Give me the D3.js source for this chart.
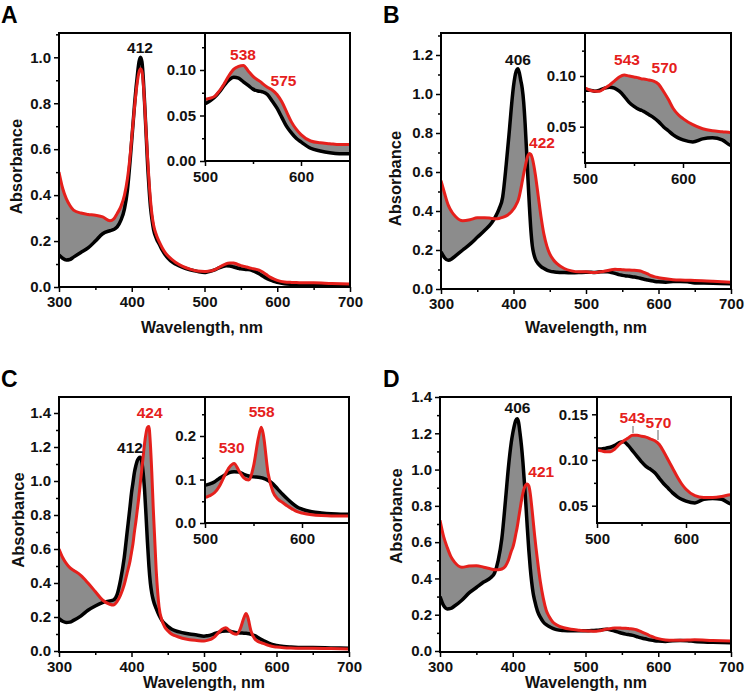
<!DOCTYPE html>
<html><head><meta charset="utf-8">
<script src="https://cdn.jsdelivr.net/npm/d3@7"></script>
<style>
body{margin:0;background:#fff;}
svg text{font-family:Arial,"Liberation Sans",sans-serif;font-weight:bold;}
</style></head><body>
<svg id="c" width="745" height="696"></svg>
<script>
// ---------------- DATA ----------------
const wavelengths=[300,305,310,315,320,330,340,350,360,370,375,380,385,390,394,398,400,402,404,406,408,410,412,414,416,418,420,422,424,426,428,430,434,438,442,446,450,455,460,470,480,490,500,505,510,515,520,525,530,535,540,545,550,555,558,560,565,570,575,580,585,590,595,600,610,620,630,640,650,675,700];

const blackA=[0.14,0.125,0.118,0.12,0.13,0.15,0.17,0.2,0.232,0.245,0.25,0.262,0.29,0.34,0.42,0.56,0.64,0.72,0.8,0.87,0.93,0.98,1.0,0.98,0.9,0.78,0.65,0.52,0.42,0.34,0.29,0.25,0.21,0.185,0.16,0.14,0.125,0.11,0.1,0.085,0.075,0.068,0.063,0.066,0.07,0.076,0.083,0.089,0.092,0.091,0.087,0.083,0.079,0.077,0.0765,0.076,0.073,0.066,0.058,0.048,0.038,0.031,0.025,0.021,0.014,0.011,0.009,0.008,0.008,0.006,0.005];
const redA=[0.5,0.43,0.385,0.355,0.335,0.322,0.316,0.312,0.305,0.288,0.295,0.32,0.35,0.4,0.47,0.58,0.65,0.72,0.79,0.85,0.9,0.935,0.95,0.94,0.88,0.78,0.66,0.55,0.45,0.37,0.31,0.27,0.225,0.195,0.17,0.15,0.135,0.12,0.108,0.09,0.078,0.07,0.068,0.069,0.071,0.077,0.085,0.094,0.101,0.104,0.105,0.099,0.093,0.089,0.087,0.085,0.081,0.078,0.073,0.065,0.054,0.043,0.035,0.029,0.022,0.02,0.019,0.018,0.018,0.015,0.013];

const blackB=[0.19,0.16,0.147,0.155,0.17,0.2,0.23,0.265,0.3,0.34,0.37,0.41,0.47,0.64,0.8,0.97,1.04,1.09,1.12,1.13,1.11,1.07,1.03,0.96,0.85,0.71,0.56,0.42,0.3,0.22,0.18,0.155,0.13,0.115,0.105,0.097,0.092,0.088,0.086,0.084,0.083,0.084,0.086,0.086,0.085,0.086,0.088,0.089,0.088,0.085,0.08,0.074,0.07,0.067,0.066,0.065,0.062,0.059,0.055,0.05,0.046,0.042,0.039,0.037,0.035,0.038,0.039,0.037,0.031,0.03,0.027];
const redB=[0.555,0.49,0.43,0.395,0.372,0.35,0.355,0.365,0.366,0.362,0.36,0.362,0.367,0.375,0.385,0.4,0.41,0.42,0.435,0.45,0.475,0.51,0.55,0.59,0.625,0.66,0.685,0.695,0.69,0.67,0.635,0.59,0.48,0.37,0.28,0.22,0.18,0.15,0.13,0.105,0.093,0.088,0.088,0.086,0.085,0.085,0.088,0.091,0.095,0.099,0.101,0.1,0.099,0.098,0.097,0.097,0.096,0.095,0.092,0.085,0.077,0.068,0.062,0.058,0.052,0.048,0.046,0.045,0.044,0.04,0.035];

const blackC=[0.19,0.175,0.168,0.17,0.18,0.205,0.24,0.265,0.285,0.295,0.3,0.33,0.42,0.55,0.7,0.85,0.93,0.99,1.05,1.09,1.12,1.135,1.14,1.12,1.05,0.95,0.8,0.64,0.5,0.4,0.34,0.3,0.25,0.21,0.18,0.16,0.145,0.13,0.12,0.108,0.1,0.094,0.087,0.09,0.095,0.103,0.11,0.116,0.118,0.117,0.112,0.108,0.106,0.105,0.104,0.103,0.098,0.09,0.078,0.066,0.055,0.045,0.037,0.032,0.026,0.023,0.021,0.02,0.02,0.018,0.016];
const redC=[0.6,0.55,0.515,0.49,0.475,0.445,0.4,0.35,0.3,0.275,0.27,0.29,0.33,0.39,0.46,0.53,0.58,0.63,0.7,0.76,0.83,0.9,0.98,1.06,1.14,1.22,1.28,1.315,1.32,1.22,1.05,0.84,0.48,0.26,0.18,0.14,0.12,0.1,0.09,0.075,0.066,0.062,0.059,0.063,0.07,0.085,0.108,0.128,0.137,0.12,0.104,0.099,0.13,0.195,0.22,0.205,0.115,0.072,0.055,0.047,0.039,0.032,0.026,0.023,0.019,0.017,0.016,0.016,0.016,0.014,0.012];

const blackD=[0.3,0.25,0.232,0.235,0.248,0.28,0.32,0.35,0.38,0.405,0.43,0.5,0.62,0.83,1.01,1.15,1.2,1.24,1.27,1.28,1.26,1.2,1.13,1.04,0.93,0.81,0.68,0.56,0.46,0.38,0.32,0.28,0.22,0.185,0.16,0.145,0.135,0.125,0.118,0.113,0.111,0.111,0.112,0.112,0.113,0.114,0.116,0.119,0.12,0.116,0.11,0.104,0.098,0.093,0.091,0.09,0.086,0.08,0.074,0.069,0.064,0.06,0.057,0.055,0.053,0.057,0.058,0.057,0.052,0.048,0.045];
const redD=[0.72,0.63,0.57,0.52,0.49,0.462,0.468,0.47,0.462,0.452,0.448,0.448,0.452,0.468,0.5,0.55,0.57,0.6,0.64,0.68,0.73,0.78,0.83,0.87,0.9,0.915,0.92,0.91,0.87,0.8,0.72,0.64,0.5,0.38,0.29,0.225,0.19,0.16,0.145,0.128,0.12,0.115,0.111,0.11,0.109,0.109,0.112,0.117,0.121,0.124,0.127,0.127,0.126,0.125,0.124,0.123,0.121,0.117,0.109,0.1,0.091,0.082,0.074,0.068,0.061,0.059,0.059,0.06,0.062,0.058,0.055];

const mainXTicks=[300,400,500,600,700];
const mainXMinor=[350,450,550,650];
const insetXTicks=[500,600];
const insetXMinor=[550];
const yTicks12=[0,0.2,0.4,0.6,0.8,1.0,1.2];
const yTicks14=[0,0.2,0.4,0.6,0.8,1.0,1.2,1.4];
const yTicks10=[0,0.2,0.4,0.6,0.8,1.0];
const yMinorMain=[0.1,0.3,0.5,0.7,0.9,1.1,1.3];
const insetYTicksA=[0,0.05,0.10], insetYMinorA=[0.025,0.075,0.125];
const insetYTicksB=[0.05,0.10], insetYMinorB=[0.025,0.075,0.125];
const insetYTicksC=[0,0.1,0.2], insetYMinorC=[0.05,0.15,0.25];
const insetYTicksD=[0.05,0.10,0.15], insetYMinorD=[0.075,0.125];

// ---------------- DRAW ----------------
const RED="#e5201c", GREY="#8c8c8c";
const svg=d3.select("#c");
let clipId=0;

function plotBox(g, f, xs, ys, black, red, xTicks, xMinor, yTicks, yMinor, yFmt, xRange, opts){
  const x=d3.scaleLinear().domain([xs[0][0],xs[1][0]]).range([xs[0][1],xs[1][1]]);
  const y=d3.scaleLinear().domain([ys[0][0],ys[1][0]]).range([ys[0][1],ys[1][1]]);
  if(opts.bg) g.append("rect").attr("x",f.l).attr("y",f.t).attr("width",f.r-f.l).attr("height",f.b-f.t).attr("fill","#fff");
  const id="clip"+(clipId++);
  g.append("clipPath").attr("id",id).append("rect").attr("x",f.l).attr("y",f.t).attr("width",f.r-f.l).attr("height",f.b-f.t);
  const data=wavelengths.map((w,i)=>({w:w,b:black[i],r:red[i]})).filter(d=>d.w>=xRange[0]&&d.w<=xRange[1]);
  const pg=g.append("g").attr("clip-path","url(#"+id+")");
  pg.append("path").datum(data).attr("fill",GREY)
    .attr("d",d3.area().x(d=>x(d.w)).y0(d=>y(d.b)).y1(d=>y(d.r)).curve(d3.curveMonotoneX));
  pg.append("path").datum(data).attr("fill","none").attr("stroke","#000").attr("stroke-width",3.5).attr("stroke-linejoin","round")
    .attr("d",d3.line().x(d=>x(d.w)).y(d=>y(d.b)).curve(d3.curveMonotoneX));
  pg.append("path").datum(data).attr("fill","none").attr("stroke",RED).attr("stroke-width",3).attr("stroke-linejoin","round")
    .attr("d",d3.line().x(d=>x(d.w)).y(d=>y(d.r)).curve(d3.curveMonotoneX));
  g.append("rect").attr("x",f.l).attr("y",f.t).attr("width",f.r-f.l).attr("height",f.b-f.t)
    .attr("fill","none").attr("stroke","#000").attr("stroke-width",2);
  const ax=g.append("g").attr("transform","translate(0,"+f.b+")")
    .call(d3.axisBottom(x).tickValues(xTicks).tickSize(5).tickPadding(opts.xpad).tickFormat(d3.format("d")));
  const axm=g.append("g").attr("transform","translate(0,"+f.b+")")
    .call(d3.axisBottom(x).tickValues(xMinor).tickSize(3).tickFormat(""));
  const ay=g.append("g").attr("transform","translate("+f.l+",0)")
    .call(d3.axisLeft(y).tickValues(yTicks).tickSize(5).tickPadding(opts.ypad).tickFormat(d3.format(yFmt)));
  const aym=g.append("g").attr("transform","translate("+f.l+",0)")
    .call(d3.axisLeft(y).tickValues(yMinor.filter(v=>y(v)>=f.t-0.5&&y(v)<=f.b+0.5)).tickSize(3).tickFormat(""));
  [ax,axm,ay,aym].forEach(a=>{
    a.select(".domain").remove();
    a.selectAll("line").attr("stroke","#000").attr("stroke-width",1.5);
    a.selectAll("text").attr("font-size",15).attr("fill","#111")
      .style("font-family","Arial,'Liberation Sans',sans-serif").style("font-weight","bold");
  });
  return {x,y};
}

function txt(x,y,s,color,size,anchor,rot){
  const t=svg.append("text").attr("x",x).attr("y",y).text(s).attr("fill",color)
    .attr("font-size",size).attr("text-anchor",anchor||"middle");
  if(rot) t.attr("transform","rotate(-90,"+x+","+y+")").attr("dominant-baseline","central");
  return t;
}

const panels=[
 {letter:"A",lx:1,ly:23,black:blackA,red:redA,
  main:{f:{l:59,r:350,t:33,b:287},xs:[[300,59],[700,350]],ys:[[0,287],[1.0,57.3]],yt:yTicks10,ym:yMinorMain},
  inset:{f:{l:205,r:350,t:33,b:161},xs:[[500,205],[600,301]],ys:[[0,161],[0.1,70]],yt:insetYTicksA,ym:insetYMinorA,fmt:".2f"},
  absX:16,absY:166.5,wlX:202,wlY:333,
  labels:[["412",140,53,"#111"],["538",243,60,RED],["575",283.5,86,RED]]},
 {letter:"B",lx:383,ly:23,black:blackB,red:redB,
  main:{f:{l:441,r:731,t:33,b:289},xs:[[300,441],[700,731]],ys:[[0,289],[1.2,55]],yt:yTicks12,ym:yMinorMain},
  inset:{f:{l:585,r:731,t:33,b:163},xs:[[500,585],[600,683]],ys:[[0.05,126.7],[0.10,76]],yt:insetYTicksB,ym:insetYMinorB,fmt:".2f"},
  absX:395,absY:178.5,wlX:586,wlY:333,
  labels:[["406",518,65,"#111"],["422",542,148,RED],["543",627,65,RED],["570",664.5,72.5,RED]]},
 {letter:"C",lx:1,ly:387,black:blackC,red:redC,
  main:{f:{l:59,r:349,t:397,b:652},xs:[[300,59],[700,349]],ys:[[0,651],[1.4,413]],yt:yTicks14,ym:yMinorMain},
  inset:{f:{l:205,r:349,t:397,b:523},xs:[[500,205],[600,302]],ys:[[0,523],[0.2,436]],yt:insetYTicksC,ym:insetYMinorC,fmt:".1f"},
  absX:17.5,absY:520,wlX:204,wlY:688,
  labels:[["424",149.7,418,RED],["412",130,453,"#111"],["530",231.7,453,RED],["558",261.7,416.5,RED]]},
 {letter:"D",lx:383,ly:387,black:blackD,red:redD,
  main:{f:{l:440,r:731,t:397,b:652},xs:[[300,440],[700,731]],ys:[[0,651],[1.4,397]],yt:yTicks14,ym:yMinorMain},
  inset:{f:{l:597,r:731,t:397,b:523},xs:[[500,597],[600,686]],ys:[[0.05,505.7],[0.15,414.3]],yt:insetYTicksD,ym:insetYMinorD,fmt:".2f"},
  absX:396,absY:516,wlX:586,wlY:688,
  labels:[["406",517.5,412.5,"#111"],["421",541.3,477,RED],["543",632.5,423,RED],["570",658.5,428,RED]]}
];

panels.forEach((p,k)=>{
  const g=svg.append("g");
  plotBox(g,p.main.f,p.main.xs,p.main.ys,p.black,p.red,mainXTicks,mainXMinor,p.main.yt,p.main.ym,".1f",[300,700],{bg:false,xpad:4,ypad:3});
  const gi=svg.append("g");
  plotBox(gi,p.inset.f,p.inset.xs,p.inset.ys,p.black,p.red,insetXTicks,insetXMinor,p.inset.yt,p.inset.ym,p.inset.fmt,[490,675],{bg:true,xpad:5,ypad:4});
  if(k===3){
    svg.append("line").attr("x1",633).attr("x2",633).attr("y1",426).attr("y2",433).attr("stroke","#666").attr("stroke-width",1);
    svg.append("line").attr("x1",658).attr("x2",658).attr("y1",430).attr("y2",440).attr("stroke","#666").attr("stroke-width",1);
  }
  txt(p.lx,p.ly,p.letter,"#000",23,"start");
  txt(p.absX,p.absY,"Absorbance","#111",16.5,"middle",true);
  txt(p.wlX,p.wlY,"Wavelength, nm","#111",16,"middle");
  p.labels.forEach(l=>txt(l[1],l[2],l[0],l[3],15.5,"middle"));
});
</script>
</body></html>
